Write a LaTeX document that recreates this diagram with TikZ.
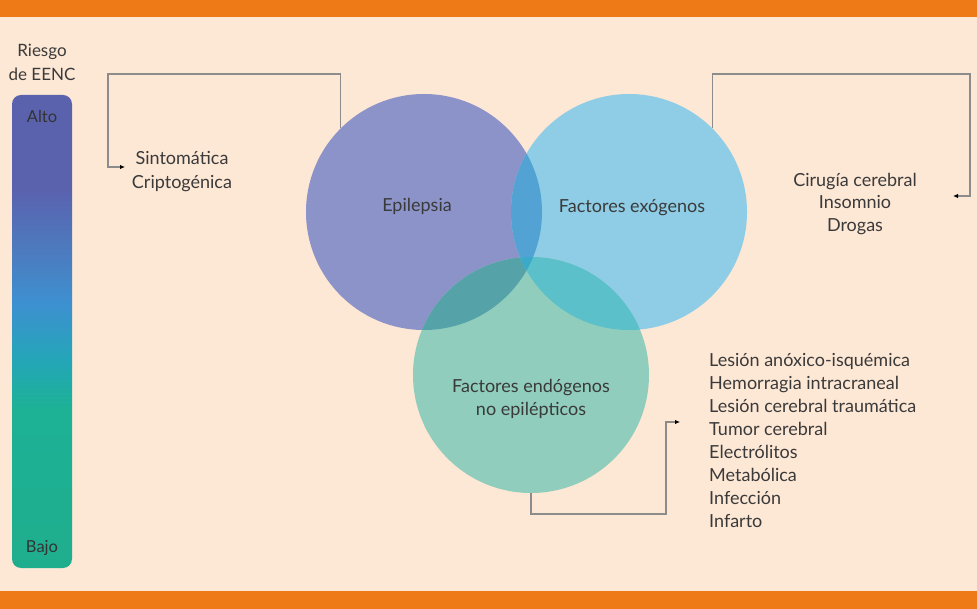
\documentclass[tikz,border=0pt]{standalone}
\usepackage{fontspec}
\setmainfont{Lato}
\usetikzlibrary{arrows.meta}
\definecolor{bgC}{HTML}{FDE7D5}
\definecolor{bandC}{HTML}{EE7917}
\definecolor{epiC}{HTML}{8C93C9}
\definecolor{exoC}{HTML}{8ECDE5}
\definecolor{endoC}{HTML}{90CDBD}
\definecolor{epiexoC}{HTML}{52A2D4}
\definecolor{epiendoC}{HTML}{55A3A9}
\definecolor{exoendoC}{HTML}{5BC0C9}
\definecolor{tripleC}{HTML}{3BA9C9}
\definecolor{txtC}{HTML}{3A3A3A}
\definecolor{lineC}{HTML}{8C8C8C}
\definecolor{barA}{HTML}{5A62AE}
\definecolor{barB}{HTML}{4B7DC0}
\definecolor{barC}{HTML}{3D90D0}
\definecolor{barD}{HTML}{24A6B8}
\definecolor{barE}{HTML}{1DB196}
\definecolor{barF}{HTML}{1FAE8D}
\pgfdeclareverticalshading{riskshade}{100bp}{color(0bp)=(barF); color(25bp)=(barF); color(42bp)=(barE); color(47bp)=(barD); color(53bp)=(barC); color(58bp)=(barB); color(65bp)=(barA); color(75bp)=(barA); color(100bp)=(barA)}
\begin{document}
\begin{tikzpicture}[x=1pt,y=-1pt,
  venn/.style={circle,minimum size=236pt,inner sep=0pt},
  lbl/.style={text=txtC,font=\fontsize{18}{23}\selectfont,align=center,inner sep=0pt},
  lst/.style={text=txtC,font=\fontsize{18}{23}\selectfont,align=left,inner sep=0pt},
  conn/.style={draw=lineC,line width=1.3pt,-{Latex[length=5pt,width=4.5pt,black]}}]
\useasboundingbox (0,0) rectangle (977,609);
\fill[bgC] (0,0) rectangle (977,609);
\fill[bandC] (0,0) rectangle (977,17);
\fill[bandC] (0,591) rectangle (977,609);
% risk bar
\node[lbl,font=\fontsize{17}{24}\selectfont] (riesgo) at (42,62) {Riesgo\\de EENC};
\node[rectangle,rounded corners=9pt,minimum width=60pt,minimum height=473pt,inner sep=0pt,
  shading=riskshade] (bar) at (42,331.5) {};
\node[lbl,text=black!80,font=\fontsize{16.5}{18}\selectfont] (alto) at (42,116) {Alto};
\node[lbl,text=black!80,font=\fontsize{16.5}{18}\selectfont] (bajo) at (42,548) {Bajo};
% circles
\node[venn,fill=epiC] (epi) at (424,212) {};
\node[venn,fill=exoC] (exo) at (629,212) {};
\node[venn,fill=endoC] (endo) at (531,375) {};
\begin{scope}
  \clip (epi.center) circle[radius=118];
  \fill[epiexoC] (exo.center) circle[radius=118];
  \fill[epiendoC] (endo.center) circle[radius=118];
\end{scope}
\begin{scope}
  \clip (exo.center) circle[radius=118];
  \fill[exoendoC] (endo.center) circle[radius=118];
\end{scope}
\begin{scope}
  \clip (epi.center) circle[radius=118];
  \clip (exo.center) circle[radius=118];
  \fill[tripleC] (endo.center) circle[radius=118];
\end{scope}
\node[lbl] (epiT) at (417,206) {Epilepsia};
\node[lbl] (exoT) at (632,208) {Factores exógenos};
\node[lbl] (endoT) at (531,399) {Factores endógenos\\no epilépticos};
% side texts
\node[lbl,font=\fontsize{18}{24}\selectfont] (sint) at (182,172) {Sintomática\\Criptogénica};
\node[lbl,font=\fontsize{18}{22.5}\selectfont] (ciru) at (855,204) {Cirugía cerebral\\Insomnio\\Drogas};
\node[lst,anchor=north west] (lista) at (709,353) {Lesión anóxico-isquémica\\Hemorragia intracraneal\\Lesión cerebral traumática\\Tumor cerebral\\Electrólitos\\Metabólica\\Infección\\Infarto};
\coordinate (sintA) at (125,167);
\coordinate (ciruA) at (953,196);
\coordinate (listA) at (680,422);
% connectors
\draw[conn] (epi.135) |- (108,74) -- (108,167) -- (sintA);
\draw[conn] (exo.45) |- (970,74) -- (970,196) -- (ciruA);
\draw[conn] (endo.south) |- (666,514) -- (666,422) -- (listA);
\end{tikzpicture}
\end{document}
